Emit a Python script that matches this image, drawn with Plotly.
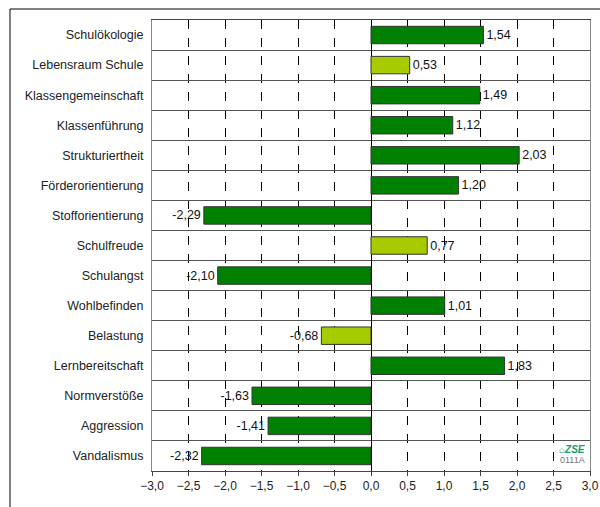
import plotly.graph_objects as go

categories = ["Schulökologie", "Lebensraum Schule", "Klassengemeinschaft", "Klassenführung",
              "Strukturiertheit", "Förderorientierung", "Stofforientierung", "Schulfreude",
              "Schulangst", "Wohlbefinden", "Belastung", "Lernbereitschaft",
              "Normverstöße", "Aggression", "Vandalismus"]
values = [1.54, 0.53, 1.49, 1.12, 2.03, 1.20, -2.29, 0.77, -2.10, 1.01, -0.68, 1.83, -1.63, -1.41, -2.32]
highlight = [False, True, False, False, False, False, False, True, False, False, True, False, False, False, False]
tick_vals = [-3.0, -2.5, -2.0, -1.5, -1.0, -0.5, 0.0, 0.5, 1.0, 1.5, 2.0, 2.5, 3.0]

DARK = "#008000"
LIGHT = "#a6cc00"
colors = [LIGHT if h else DARK for h in highlight]

W, H = 600, 507
ML, MR, MT, MB = 152, 10, 20, 36
pw, ph = W - ML - MR, H - MT - MB

fig = go.Figure(go.Bar(
    y=categories, x=values, orientation="h",
    marker=dict(color=colors, line=dict(color="#333333", width=1)),
    width=0.58,
    texttemplate="%{x:.2f}", textposition="outside",
    textfont=dict(family="Liberation Sans, Arial", size=12.5, color="#111111"),
    cliponaxis=False,
))

def px(x):
    return (x - ML) / pw

def py(y):
    return (H - MB - y) / ph

fig.update_layout(
    width=W, height=H,
    margin=dict(l=ML, r=MR, t=MT, b=MB, autoexpand=False),
    paper_bgcolor="white", plot_bgcolor="white",
    separators=",.",
    showlegend=False,
    font=dict(family="Liberation Sans, Arial", size=12, color="#222222"),
    xaxis=dict(
        range=[-3, 3], tickvals=tick_vals, tickformat=".1f",
        showgrid=True, gridcolor="#000000", gridwidth=1, griddash="dash",
        zeroline=True, zerolinecolor="#000000", zerolinewidth=1,
        showline=True, linecolor="#444444", linewidth=1, mirror=True,
        ticks="outside", ticklen=4, tickcolor="#444444",
        tickfont=dict(size=12, color="#222222"),
        automargin=False, fixedrange=True,
    ),
    yaxis=dict(
        type="category", autorange="reversed",
        tickson="boundaries", ticks="", showgrid=True, gridcolor="#555555", gridwidth=1,
        showline=True, linecolor="#888888", linewidth=1, mirror=True,
        ticklabelstandoff=5,
        tickfont=dict(size=12.5, color="#222222"),
        automargin=False, fixedrange=True,
    ),
    shapes=[
        dict(type="line", xref="paper", yref="paper", x0=px(10), x1=px(10), y0=py(507), y1=py(9),
             line=dict(color="#000000", width=1)),
        dict(type="line", xref="paper", yref="paper", x0=px(10), x1=px(600), y0=py(9), y1=py(9),
             line=dict(color="#000000", width=1)),
    ],
    annotations=[
        dict(xref="paper", yref="paper", x=px(587), y=py(449), xanchor="right", yanchor="middle",
             text="<b><i>⌂ZSE</i></b>", showarrow=False,
             font=dict(size=10, color="#1e9a6e")),
        dict(xref="paper", yref="paper", x=px(587), y=py(460), xanchor="right", yanchor="middle",
             text="0111A", showarrow=False,
             font=dict(size=9, color="#777777")),
    ],
)

fig.write_html("out.html")
